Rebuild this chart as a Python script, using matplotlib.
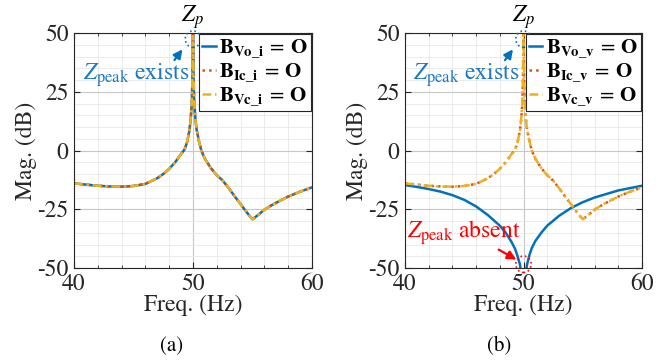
import matplotlib
matplotlib.use("Agg")
import matplotlib.pyplot as plt
from matplotlib.patches import Ellipse
from matplotlib.ticker import MultipleLocator

plt.rcParams['font.family'] = ['STIXGeneral', 'DejaVu Serif']
plt.rcParams['mathtext.fontset'] = 'stix'

# frequency points (Hz) and magnitudes (dB)
freq = [40, 41, 42, 43, 44, 45, 46, 46.5, 47, 47.5, 48, 48.5, 49, 49.3, 49.5, 49.7,
        49.8, 49.9, 49.95, 50, 50.05, 50.1, 50.2, 50.3, 50.5, 50.7, 51, 51.5, 52,
        52.5, 53, 53.5, 54, 54.5, 55, 55.5, 56, 56.5, 57, 58, 59, 60]
mag_peak = [-14.0, -14.5, -15.0, -15.3, -15.4, -15.1, -14.2, -13.0, -11.8, -10.0, -7.8,
            -5.0, -1.5, 0.5, 3.5, 8.5, 13.0, 20.0, 30.0, 52.0, 30.0, 21.0, 13.5, 9.0,
            4.0, 0.0, -3.5, -7.5, -10.5, -12.8, -16.0, -19.5, -22.8, -26.2, -29.3,
            -27.3, -25.2, -23.6, -22.2, -19.6, -17.5, -15.7]
freq_v = [40, 41, 42, 43, 44, 45, 46, 47, 48, 48.5, 49, 49.3, 49.5, 49.7, 49.8, 49.9,
          50, 50.1, 50.2, 50.3, 50.5, 50.7, 51, 51.5, 52, 53, 54, 55, 56, 57, 58, 59, 60]
mag_vo_v = [-14.7, -15.5, -16.4, -17.5, -19.0, -21.0, -23.8, -27.5, -32.0, -35.0, -39.0,
            -42.0, -45.0, -48.5, -52.0, -56.0, -60.0, -56.0, -52.0, -48.5, -44.5, -41.5,
            -38.5, -35.0, -32.0, -27.8, -24.5, -22.0, -20.0, -18.5, -17.0, -16.0, -15.0]

labels_a = [r'$\mathbf{B_{Vo\_i}}\:=\:\mathbf{O}$', r'$\mathbf{B_{Ic\_i}}\:=\:\mathbf{O}$',
            r'$\mathbf{B_{Vc\_i}}\:=\:\mathbf{O}$']
labels_b = [r'$\mathbf{B_{Vo\_v}}\:=\:\mathbf{O}$', r'$\mathbf{B_{Ic\_v}}\:=\:\mathbf{O}$',
            r'$\mathbf{B_{Vc\_v}}\:=\:\mathbf{O}$']

c_blue = '#0072BD'
c_red = '#D95319'
c_yel = '#EDB120'
dashdot = (0, (3.5, 1.5, 1, 1.5))

fig = plt.figure(figsize=(6.71, 3.62), dpi=100)
ax1 = fig.add_axes([74 / 671, 1 - 268 / 362, 238 / 671, 235 / 362])
ax2 = fig.add_axes([405 / 671, 1 - 268 / 362, 237 / 671, 235 / 362])


def style(ax):
    ax.set_xlim(40, 60)
    ax.set_ylim(-50, 50)
    ax.xaxis.set_major_locator(MultipleLocator(10))
    ax.xaxis.set_minor_locator(MultipleLocator(2))
    ax.yaxis.set_minor_locator(MultipleLocator(5))
    ax.set_yticks([-50, -25, 0, 25, 50])
    ax.set_yticklabels(['-50', '-25', '0', '25', '50'])
    ax.grid(which='major', color='#c8c8c8', lw=0.8)
    ax.grid(which='minor', color='#e8e8e8', lw=0.6)
    ax.set_axisbelow(True)
    ax.tick_params(which='both', direction='in', top=True, right=True,
                   labelsize=17, colors='#262626', pad=4)
    ax.tick_params(which='major', length=4)
    ax.tick_params(which='minor', length=2)
    ax.tick_params(axis='y', which='minor', left=False, right=False)
    for s in ax.spines.values():
        s.set_color('#262626')
        s.set_linewidth(0.8)
    ax.set_xlabel('Freq. (Hz)', fontsize=17, color='#262626', labelpad=0)
    ax.set_ylabel('Mag. (dB)', fontsize=17, color='#262626', labelpad=0)
    ax.text(50, 50.8, r'$Z_p$', fontsize=17, ha='center', va='bottom')


# panel (a)
ax1.plot(freq, mag_peak, color=c_blue, lw=1.8, label=labels_a[0])
ax1.plot(freq, mag_peak, color=c_red, lw=1.8, ls=':', label=labels_a[1])
ax1.plot(freq, mag_peak, color=c_yel, lw=1.8, ls=dashdot, label=labels_a[2])

# panel (b)
ax2.plot(freq_v, mag_vo_v, color=c_blue, lw=1.8, label=labels_b[0])
ax2.plot(freq, mag_peak, color=c_red, lw=1.8, ls=':', label=labels_b[1])
ax2.plot(freq, mag_peak, color=c_yel, lw=1.8, ls=dashdot, label=labels_b[2])

for ax in (ax1, ax2):
    style(ax)
    leg = ax.legend(loc='upper right', fontsize=15, handlelength=0.65, handletextpad=0.15,
                    borderpad=0.15, labelspacing=0.08, borderaxespad=0.05, fancybox=False,
                    framealpha=1)
    leg.get_frame().set_edgecolor('#262626')
    leg.get_frame().set_linewidth(0.8)
    ax.add_patch(Ellipse((50, 47.4), 1.3, 7, fill=False, ec=c_blue, ls=':', lw=1.2,
                         clip_on=False, zorder=5))
    ax.annotate('', xy=(49.25, 44), xytext=(48.3, 37.5),
                arrowprops=dict(arrowstyle='-|>', color=c_blue, lw=1.6, mutation_scale=13))
    ax.text(45.2, 32, r'$Z_{\mathrm{peak}}$ exists', color='#1a78c8', fontsize=17,
            ha='center', va='center')

ax2.add_patch(Ellipse((50, -48.4), 1.3, 7, fill=False, ec='red', ls=':', lw=1.2,
                      clip_on=False, zorder=5))
ax2.annotate('', xy=(49.6, -47), xytext=(47.7, -41.6),
             arrowprops=dict(arrowstyle='-|>', color='red', lw=1.6, mutation_scale=13))
ax2.text(45.0, -35, r'$Z_{\mathrm{peak}}$ absent', color='red', fontsize=17,
         ha='center', va='center')

fig.text(172 / 671, 1 - 346 / 362, '(a)', fontsize=15, ha='center', va='center')
fig.text(499 / 671, 1 - 346 / 362, '(b)', fontsize=15, ha='center', va='center')

fig.savefig('out.png', dpi=100)
